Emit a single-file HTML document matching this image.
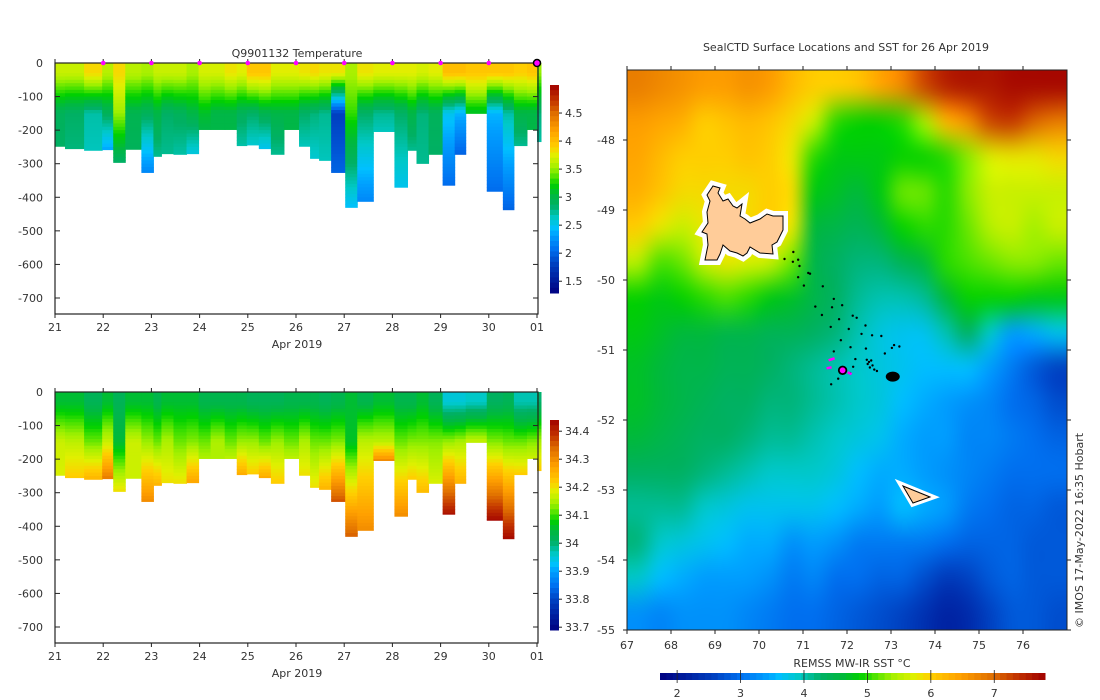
<!DOCTYPE html>
<html><head><meta charset="utf-8">
<style>
html,body{margin:0;padding:0;background:#fff;}
#wrap{position:relative;width:1100px;height:700px;overflow:hidden;font-family:"DejaVu Sans","Liberation Sans",sans-serif;}
#map{position:absolute;left:627px;top:70px;}
#svg{position:absolute;left:0;top:0;}
text{font-family:"DejaVu Sans","Liberation Sans",sans-serif;font-size:11px;fill:#333;}
</style></head>
<body>
<div id="wrap">
<canvas id="map" width="440" height="560"></canvas>
<svg id="svg" width="1100" height="700" xmlns="http://www.w3.org/2000/svg"></svg>
</div>
<script>
// ---- section data (days since 21 Apr 2019) ----
const colStart=[0,0.208,0.604,0.979,1.208,1.458,1.792,2.042,2.208,2.458,2.729,2.979,3.229,3.521,3.771,3.979,4.229,4.479,4.75,5.063,5.292,5.479,5.729,6.021,6.271,6.604,7.042,7.313,7.5,7.75,8.042,8.292,8.521,8.958,9.292,9.521,9.792,10.0];
const colEndLast=10.083;
const colDepth=[248,255,260,258,296,257,326,278,270,272,270,198,198,198,246,244,255,272,198,248,284,290,326,430,412,204,370,260,299,272,364,272,150,382,437,246,198,234];
const tSurf=[3.65,3.65,3.85,3.6,3.85,3.6,3.55,3.65,3.65,3.65,3.55,3.7,3.7,3.8,3.75,3.95,3.95,3.75,3.75,3.8,3.85,3.8,3.8,3.55,3.8,3.75,3.75,3.75,3.7,3.75,4.0,4.0,3.95,3.95,3.95,3.9,3.95,3.5];
const tMid=[2.9,2.85,2.7,2.9,3.5,2.95,2.9,3.0,2.85,2.9,3.0,3.1,3.0,3.0,2.9,2.85,2.95,3.0,3.0,2.85,2.8,2.75,1.8,3.3,2.85,2.75,2.85,3.0,2.8,2.9,2.5,2.4,3.1,2.4,2.7,3.0,3.0,2.8];
const tBot=[2.85,2.8,2.65,2.35,2.85,2.9,2.2,2.75,2.75,2.7,2.55,3.0,3.0,3.0,2.7,2.6,2.5,2.75,3.0,2.65,2.6,2.65,2.0,2.45,2.2,2.65,2.5,2.75,2.75,2.85,2.05,2.0,3.1,2.05,2.0,2.75,3.0,2.7];
const sSurf=[34.05,34.05,34.02,34.05,34.02,34.05,34.05,34.03,34.05,34.05,34.05,34.03,34.03,34.03,34.03,34.02,34.02,34.02,34.03,34.03,34.03,34.02,34.03,34.05,34.03,34.05,34.03,34.03,34.05,34.02,33.95,33.95,33.96,34.01,34.02,33.97,33.97,34.0];
const sMid=[34.17,34.16,34.12,34.17,34.05,34.17,34.14,34.12,34.15,34.12,34.13,34.12,34.15,34.12,34.14,34.14,34.12,34.14,34.12,34.15,34.12,34.12,34.13,34.06,34.16,34.16,34.12,34.13,34.13,34.13,34.14,34.15,34.17,34.13,34.12,34.12,34.13,34.15];
const sBot=[34.18,34.22,34.25,34.32,34.2,34.17,34.3,34.25,34.2,34.2,34.27,34.15,34.15,34.16,34.26,34.22,34.26,34.22,34.16,34.2,34.2,34.25,34.36,34.35,34.3,34.3,34.3,34.22,34.24,34.18,34.42,34.25,34.18,34.43,34.43,34.22,34.17,34.22];
const dayLabels=["21","22","23","24","25","26","27","28","29","30","01"];
const depthTicks=[0,-100,-200,-300,-400,-500,-600,-700];
const tempTicks=[1.5,2,2.5,3,3.5,4,4.5];
const salTicks=[33.7,33.8,33.9,34,34.1,34.2,34.3,34.4];
// ---- map data: SST grid 0.5 deg, rows from lat -47 (top) to -55, cols from lon 67 to 77 ----
const sstRows=[
[6.8,6.7,6.6,6.5,6.5,6.6,6.5,6.2,6.0,6.0,6.1,6.4,6.7,7.2,7.5,7.6,7.6,7.7,7.7,7.7],
[6.5,6.4,6.3,6.0,6.1,6.2,6.1,5.9,5.6,5.0,4.9,4.9,5.0,5.4,6.2,6.6,7.2,7.3,7.0,6.8],
[6.4,6.2,6.0,6.0,6.0,6.1,6.0,5.8,5.0,4.8,4.8,4.8,4.9,4.9,5.0,5.3,5.7,5.8,5.8,5.9],
[6.3,6.1,5.9,5.9,5.9,5.9,6.0,5.9,4.8,4.7,4.6,4.8,5.2,5.2,5.0,5.3,5.6,5.6,5.6,5.6],
[6.0,5.8,5.6,5.8,5.9,5.9,6.0,5.8,4.6,4.5,4.4,4.6,4.9,5.0,5.0,5.2,5.5,5.6,5.4,5.6],
[5.5,5.1,5.2,5.6,5.8,5.7,5.6,5.2,4.5,4.3,4.2,4.2,4.4,4.6,5.0,5.1,5.2,5.3,5.3,5.2],
[4.9,4.8,4.9,5.0,5.1,5.0,4.8,4.7,4.5,4.3,4.1,4.0,4.0,4.1,4.6,4.9,4.9,4.9,4.8,4.8],
[4.8,4.7,4.6,4.6,4.5,4.5,4.4,4.4,4.3,4.2,4.0,3.8,3.7,3.7,4.0,4.3,3.9,3.4,3.5,3.7],
[4.7,4.6,4.5,4.5,4.4,4.4,4.3,4.2,4.1,4.0,3.9,3.8,3.7,3.6,3.6,3.6,3.4,3.1,2.8,2.6],
[4.7,4.6,4.5,4.4,4.3,4.3,4.2,4.2,4.1,4.0,3.9,3.8,3.6,3.5,3.4,3.3,3.2,3.0,2.9,2.7],
[4.6,4.5,4.4,4.3,4.3,4.2,4.1,4.1,4.0,3.9,3.8,3.7,3.5,3.4,3.4,3.2,3.2,3.1,3.0,2.9],
[4.3,4.3,4.3,4.2,4.1,4.0,3.9,3.9,3.9,3.8,3.6,3.5,3.5,3.4,3.3,3.2,3.1,3.0,3.0,3.0],
[4.1,4.1,4.1,3.9,3.8,3.7,3.7,3.7,3.7,3.6,3.5,3.4,3.6,3.5,3.4,3.1,3.0,2.9,2.9,2.8],
[4.2,3.9,3.8,3.7,3.6,3.5,3.5,3.3,3.4,3.3,3.1,3.1,3.1,3.1,3.0,2.9,2.9,2.9,2.8,2.8],
[3.9,3.6,3.5,3.4,3.4,3.4,3.3,3.1,3.2,3.0,3.0,2.9,2.9,2.7,2.5,2.6,2.8,2.9,2.8,2.8],
[3.3,3.2,3.3,3.3,3.3,3.2,3.1,3.0,3.0,2.9,2.8,2.7,2.6,2.4,2.2,2.3,2.6,2.8,2.8,2.7]];
const lonTicks=[67,68,69,70,71,72,73,74,75,76];
const latTicks=[-48,-49,-50,-51,-52,-53,-54,-55];
const sstTicks=[2,3,4,5,6,7];
const dotLon=[70.58,70.78,70.89,70.77,70.92,71.12,71.16,70.89,71.02,71.45,71.70,71.28,71.66,71.89,71.43,71.82,72.13,72.22,71.63,72.42,72.04,72.33,72.57,72.78,71.86,72.08,72.43,72.86,73.07,73.19,73.02,71.70,72.19,71.64,71.80,72.14,72.07,72.50,72.55,72.47,72.58,72.52,72.62,72.45,72.68];
const dotLat=[-49.70,-49.60,-49.71,-49.74,-49.80,-49.90,-49.91,-49.96,-50.08,-50.09,-50.27,-50.38,-50.39,-50.36,-50.50,-50.56,-50.51,-50.54,-50.67,-50.65,-50.70,-50.77,-50.79,-50.80,-50.86,-50.96,-50.98,-51.05,-50.93,-50.95,-50.97,-51.02,-51.13,-51.49,-51.41,-51.24,-51.33,-51.17,-51.15,-51.20,-51.22,-51.25,-51.28,-51.14,-51.30];
const blobLon=[73.04], blobLat=[-51.38];
const markLon=[71.90], markLat=[-51.29];

// ---- colormap ----
const stops=[[0,[0,0,128]],[0.14,[0,64,192]],[0.21,[0,112,240]],[0.28,[0,160,255]],[0.31,[0,192,255]],[0.36,[0,200,200]],[0.42,[0,176,100]],[0.47,[0,184,64]],[0.52,[0,208,0]],[0.55,[64,224,0]],[0.60,[160,240,0]],[0.66,[224,240,0]],[0.70,[255,208,0]],[0.78,[255,160,0]],[0.86,[224,112,0]],[0.93,[192,48,0]],[1,[160,0,0]]];
function cmap(t){t=Math.max(0,Math.min(1,t));for(let i=1;i<stops.length;i++){if(t<=stops[i][0]){const a=stops[i-1],b=stops[i];const f=(t-a[0])/(b[0]-a[0]);const c=a[1].map((v,k)=>Math.round(v+(b[1][k]-v)*f));return 'rgb('+c.join(',')+')';}}return 'rgb(160,0,0)';}
function cmapArr(t){return cmap(t).match(/\d+/g).map(Number);}

const NS='http://www.w3.org/2000/svg';
const svg=document.getElementById('svg');
function el(tag,attrs,parent){const e=document.createElementNS(NS,tag);for(const k in attrs)e.setAttribute(k,attrs[k]);(parent||svg).appendChild(e);return e;}
function txt(s,x,y,anchor,parent,extra){const t=el('text',Object.assign({x:x,y:y,'text-anchor':anchor||'middle'},extra||{}),parent);t.textContent=s;return t;}

// ---- section panels ----
const X0=55, DAYPX=48.2;
function xDay(d){return X0+d*DAYPX;}
function panel(name,top,title,surf,mid,bot,vmin,vmax,cbTop,cbBot,ticks,tickFmt){
  const g=el('g',{});
  
  
  const yD=d=>top+d*0.3357;
  for(let i=0;i<colStart.length;i++){
    const x1=xDay(colStart[i]), x2=xDay(i+1<colStart.length?colStart[i+1]:colEndLast);
    const dep=colDepth[i];
    const cg=el('g',{},g);
    
    
    for(let d=0;d<dep;d+=10){
      const dm=d+5;let v;
      if(dm<30)v=surf[i];else if(dm<150)v=surf[i]+(mid[i]-surf[i])*(dm-30)/120;
      else v=mid[i]+(bot[i]-mid[i])*((dm-150)/Math.max(1,dep-150));
      const y1=yD(d), y2=yD(Math.min(dep,d+10));
      el('rect',{x:x1,y:y1,width:x2-x1+0.5,height:y2-y1+0.5,fill:cmap((v-vmin)/(vmax-vmin))},cg);
    }
  }
  const yBot=top+251;
  const ax=el('rect',{x:55,y:top,width:483,height:251,fill:'none',stroke:'#222','stroke-width':1.2},g);
  
  
  depthTicks.forEach(v=>{const y=yD(-v);
    el('line',{x1:55,x2:60,y1:y,y2:y,stroke:'#222'},g);
    el('line',{x1:533,x2:538,y1:y,y2:y,stroke:'#222'},g);
    const t=txt(String(v),43,y+4,'end',g);
    
    
  });
  dayLabels.forEach((s,i)=>{const x=xDay(i);
    el('line',{x1:x,x2:x,y1:yBot,y2:yBot+4,stroke:'#222'},g);
    el('line',{x1:x,x2:x,y1:top,y2:top-4,stroke:'#222'},g);
    const t=txt(s,x,yBot+17,'middle',g);
    
    
  });
  const xl=txt('Apr 2019',297,yBot+34,'middle',g);
  
  
  if(title){const tt=txt(title,297,top-6,'middle',g);
    
    }
  const cb=el('g',{},g);
  
  
  const n=40, h=(cbBot-cbTop)/n;
  for(let k=0;k<n;k++){el('rect',{x:550,y:cbTop+k*h,width:9,height:h+0.5,fill:cmap(1-(k+0.5)/n)},cb);}
  ticks.forEach(v=>{const y=cbTop+(vmax-v)/(vmax-vmin)*(cbBot-cbTop);
    el('line',{x1:559,x2:562,y1:y,y2:y,stroke:'#222'},cb);
    const t=txt(tickFmt(v),565,y+4,'start',cb);
    
    
  });
  return g;
}
panel('temperature-section',63,'Q9901132  Temperature',tSurf,tMid,tBot,1.29,5.0,85,293,tempTicks,v=>String(v));
panel('salinity-section',392,null,sSurf,sMid,sBot,33.69,34.44,420,630,salTicks,v=>String(Math.round(v*10)/10));
for(let i=1;i<=9;i++){const c=el('circle',{cx:xDay(i),cy:63,r:2.3,fill:'#ff00ff'});
  
  }
const cm=el('circle',{cx:xDay(10),cy:63,r:3.5,fill:'#ff00ff',stroke:'#000','stroke-width':1.5});



// ---- map ----
const MX=627,MY=70,MW=440,MH=560;
const lonX=l=>MX+(l-67)*44, latY=a=>MY+(-47-a)*70;
(function(){
  const off=document.createElement('canvas');off.width=20;off.height=16;
  const oc=off.getContext('2d');const img=oc.createImageData(20,16);
  for(let r=0;r<16;r++)for(let c=0;c<20;c++){const rgb=cmapArr((sstRows[r][c]-1.73)/(7.8-1.73));const p=(r*20+c)*4;img.data[p]=rgb[0];img.data[p+1]=rgb[1];img.data[p+2]=rgb[2];img.data[p+3]=255;}
  oc.putImageData(img,0,0);
  const ctx=document.getElementById('map').getContext('2d');
  ctx.imageSmoothingEnabled=true;ctx.imageSmoothingQuality='high';
  ctx.drawImage(off,0,0,20,16,0,0,MW,MH);
})();
const mg=el('g',{});


const kerg=[[713,186],[720,188],[718,193],[723,201],[728,199],[733,206],[737,208],[742,204],[740,216],[745,219],[750,223],[760,219],[767,214],[773,216],[783,216],[783,230],[777,242],[772,245],[773,254],[760,253],[750,247],[747,253],[743,256],[737,253],[730,251],[723,245],[720,254],[717,260],[705,260],[708,245],[707,234],[702,232],[708,223],[707,212],[710,201],[707,195]].map(p=>p.join(',')).join(' ');
el('polygon',{points:kerg,fill:'#fff',stroke:'#fff','stroke-width':10,'stroke-linejoin':'miter'},mg);
const k=el('polygon',{points:kerg,fill:'#ffcc99',stroke:'#000','stroke-width':1},mg);


const heard='903,486 930,497 913,503';
el('polygon',{points:heard,fill:'#fff',stroke:'#fff','stroke-width':7},mg);
const hd=el('polygon',{points:heard,fill:'#ffcc99',stroke:'#000','stroke-width':1},mg);


for(let i=0;i<dotLon.length;i++){const d=el('circle',{cx:lonX(dotLon[i]),cy:latY(dotLat[i]),r:1.2,fill:'#000'},mg);
  
  }
const bl=el('ellipse',{cx:lonX(blobLon[0]),cy:latY(blobLat[0]),rx:7,ry:5,fill:'#000'},mg);


const mx=lonX(markLon[0]), my=latY(markLat[0]);
const trk=el('path',{d:`M${mx-14},${my-10} L${mx-8},${my-12} M${mx-16},${my-2} L${mx-11},${my-3} M${mx+5},${my+2} L${mx+9},${my+4}`,stroke:'#ff00ff','stroke-width':2.5,fill:'none'},mg);


const mk=el('circle',{cx:mx,cy:my,r:3.8,fill:'#ff00ff',stroke:'#000','stroke-width':1.8},mg);


const mf=el('rect',{x:MX,y:MY,width:MW,height:MH,fill:'none',stroke:'#222','stroke-width':1},mg);


lonTicks.forEach(l=>{const x=lonX(l);
  el('line',{x1:x,x2:x,y1:MY+MH,y2:MY+MH+4,stroke:'#222'},mg);
  el('line',{x1:x,x2:x,y1:MY,y2:MY-4,stroke:'#222'},mg);
  const t=txt(String(l),x,MY+MH+19,'middle',mg);
  
  });
latTicks.forEach(a=>{const y=latY(a);
  el('line',{x1:MX-4,x2:MX,y1:y,y2:y,stroke:'#222'},mg);
  el('line',{x1:MX+MW,x2:MX+MW+4,y1:y,y2:y,stroke:'#222'},mg);
  const t=txt(String(a),615,y+4,'end',mg);
  
  });
const mt=txt('SealCTD Surface Locations and SST for 26 Apr 2019',846,51,'middle',mg);


const cr=txt('© IMOS 17-May-2022 16:35 Hobart',0,0,'start',mg,{transform:'translate(1083,628) rotate(-90)','font-size':'10'});


const sc=el('g',{});


const CB0=660,CB1=1045,n2=60;
for(let i=0;i<n2;i++){el('rect',{x:CB0+i*(CB1-CB0)/n2,y:673,width:(CB1-CB0)/n2+0.5,height:7,fill:cmap((i+0.5)/n2)},sc);}
sstTicks.forEach(v=>{const x=CB0+(v-1.73)/(7.8-1.73)*(CB1-CB0);
  el('line',{x1:x,x2:x,y1:670,y2:683,stroke:'#222','stroke-width':0.8},sc);
  const t=txt(String(v),x,697,'middle',sc);
  
  });
const ct=txt('REMSS MW-IR SST °C',852,667,'middle',sc);


</script>
</body></html>
